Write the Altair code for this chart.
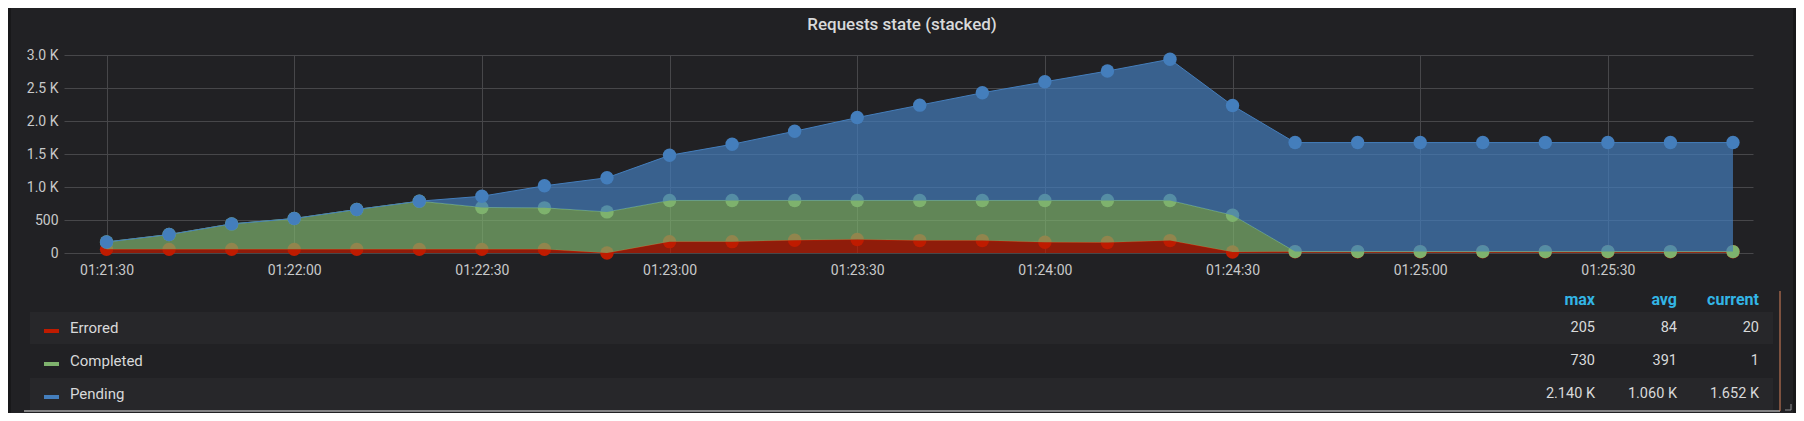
import altair as alt
import pandas as pd

# ---------------- data ----------------
times = ["01:21:30", "01:21:40", "01:21:50", "01:22:00", "01:22:10", "01:22:20",
         "01:22:30", "01:22:40", "01:22:50", "01:23:00", "01:23:10", "01:23:20",
         "01:23:30", "01:23:40", "01:23:50", "01:24:00", "01:24:10", "01:24:20",
         "01:24:30", "01:24:40", "01:24:50", "01:25:00", "01:25:10", "01:25:20",
         "01:25:30", "01:25:40", "01:25:50"]
errored = [55, 55, 55, 55, 55, 55, 55, 55, 0, 172, 172, 193, 205, 188, 188, 163, 158,
           188, 15, 20, 20, 20, 20, 20, 20, 20, 20]
completed = [112, 225, 386, 468, 605, 730, 635, 629, 623, 624, 624, 603, 591, 608, 608,
             633, 638, 608, 558, 1, 1, 1, 1, 1, 1, 1, 1]
pending = [0, 0, 0, 0, 0, 0, 170, 334, 517, 684, 851, 1049, 1256, 1444, 1631, 1798,
           1961, 2140, 1661, 1652, 1652, 1652, 1652, 1652, 1652, 1652, 1652]

series_names = ["Errored", "Completed", "Pending"]
series_colors = ["#bf1b00", "#7eb26d", "#447ebc"]
stat_headers = ["max", "avg", "current"]
stat_values = [["205", "84", "20"],
               ["730", "391", "1"],
               ["2.140 K", "1.060 K", "1.652 K"]]
x_tick_labels = ["01:21:30", "01:22:00", "01:22:30", "01:23:00", "01:23:30",
                 "01:24:00", "01:24:30", "01:25:00", "01:25:30"]
y_ticks = [0, 500, 1000, 1500, 2000, 2500, 3000]
x_domain = ["01:21:23.2", "01:25:53.2"]
title_text = "Requests state (stacked)"

# ---------------- styling ----------------
PAGE_BG = "#18181a"
PANEL_BG = "#212124"
BAND_BG = "#27272a"
GRID = "#47474a"
TEXT = "#d8d9da"
AXIS_TEXT = "#c8c9ca"
HEAD = "#33b5e5"
FONT = "Roboto"

W, H = 1689, 198
PAD = {"left": 56, "top": 47, "right": 43, "bottom": 160}


def to_dt(s):
    hms, _, frac = s.partition(".")
    h, m, sec = [int(v) for v in hms.split(":")]
    ms = int(round(float("0." + frac) * 1000)) if frac else 0
    return alt.DateTime(year=2020, month=1, date=1, hours=h, minutes=m,
                        seconds=sec, milliseconds=ms, utc=True)


series_values = [errored, completed, pending]
rows = []
for k, name in enumerate(series_names):
    for i, t in enumerate(times):
        rows.append({"t": "2020-01-01T" + t + "Z", "series": name,
                     "value": series_values[k][i], "order": k})
df = pd.DataFrame(rows)

x_enc = alt.X(
    "t:T",
    title=None,
    scale=alt.Scale(type="utc", domain=[to_dt(x_domain[0]), to_dt(x_domain[1])]),
    axis=alt.Axis(values=[to_dt(s) for s in x_tick_labels], format="%H:%M:%S",
                  grid=True, gridColor=GRID, gridWidth=1, domain=False, ticks=False,
                  tickSize=0, labelPadding=17, labelBaseline="middle",
                  labelColor=AXIS_TEXT, labelFont=FONT, labelFontSize=14,
                  labelFlush=False, labelOverlap=False),
)
y_enc = alt.Y(
    "y1:Q",
    title=None,
    scale=alt.Scale(domain=[0, 3000], nice=False, zero=True),
    axis=alt.Axis(values=y_ticks, grid=True, gridColor=GRID, gridWidth=1,
                  domain=False, ticks=False, tickSize=0, labelPadding=6,
                  labelColor=AXIS_TEXT, labelFont=FONT, labelFontSize=14,
                  labelExpr="datum.value >= 1000 ? format(datum.value / 1000, '.1f') + ' K' : format(datum.value, 'd')"),
)

base = alt.Chart(df).transform_stack(
    stack="value", groupby=["t"], as_=["y0", "y1"],
    sort=[alt.SortField("order", order="ascending")],
)

layers = []
one = pd.DataFrame({"k": [0]})


def deco_rect(x0, x1, y0, y1, color, radius=0):
    return alt.Chart(one).mark_rect(color=color, cornerRadius=radius).encode(
        x=alt.value(x0), x2=alt.value(x1), y=alt.value(y0), y2=alt.value(y1))


def deco_rule(x0, x1, y0, y1, color, width=1):
    return alt.Chart(one).mark_rule(color=color, strokeWidth=width).encode(
        x=alt.value(x0), x2=alt.value(x1), y=alt.value(y0), y2=alt.value(y1))


def deco_text(txt, x, y, align="left", color=TEXT, size=14, weight="normal"):
    return alt.Chart(pd.DataFrame({"txt": [txt]})).mark_text(
        align=align, baseline="middle", color=color, font=FONT, fontSize=size,
        fontWeight=weight).encode(x=alt.value(x), y=alt.value(y), text="txt:N")


# page-colour strips outside the panel
layers.append(deco_rect(-56, -53, -47, 360, PAGE_BG))
layers.append(deco_rect(1729, 1732, -47, 360, PAGE_BG))

# series: area (with line) then points, bottom to top
for name, col in zip(series_names, series_colors):
    sub = base.transform_filter(alt.datum.series == name)
    layers.append(sub.mark_area(
        color=col, fillOpacity=0.7, interpolate="linear",
        line=alt.OverlayMarkDef(color=col, strokeWidth=1, opacity=1),
    ).encode(x=x_enc, y=y_enc, y2="y0:Q"))
    layers.append(sub.mark_circle(color=col, size=180, opacity=1).encode(x=x_enc, y=y_enc))

# title
layers.append(deco_text(title_text, 838, -30, align="center", size=17, weight=500))

# legend table
row_y = [273, 306, 339]
band_rows = [(257, 289), (323, 355)]
for y0, y1 in band_rows:
    layers.append(deco_rect(-34, 1709, y0, y1, BAND_BG))
col_x = [1531, 1613, 1695]
for h, cx in zip(stat_headers, col_x):
    layers.append(deco_text(h, cx, 245, align="right", color=HEAD, size=16, weight="bold"))
for r, (name, col) in enumerate(zip(series_names, series_colors)):
    ry = row_y[r]
    layers.append(deco_rect(-20, -5, ry + 1, ry + 5, col))
    layers.append(deco_text(name, 6, ry, align="left", color=TEXT, size=15))
    for v, cx in zip(stat_values[r], col_x):
        layers.append(deco_text(v, cx, ry, align="right", color=TEXT, size=14.5))

# panel bottom line, side marker and resize handle
layers.append(deco_rule(-40, 1716, 356, 356, "#e6e6e6", 1))
layers.append(deco_rule(1716, 1716, 236, 356, "#d9825b", 1))
layers.append(deco_rule(1721, 1727, 355, 355, "#8e8e90", 1))
layers.append(deco_rule(1727, 1727, 349, 355, "#8e8e90", 1))

chart = alt.layer(*layers).properties(
    width=W, height=H, padding=PAD, autosize=alt.AutoSizeParams(type="none"),
    background=PANEL_BG,
).configure_view(strokeWidth=0)

chart.save("out.html", embed_options={"renderer": "svg", "actions": False})
